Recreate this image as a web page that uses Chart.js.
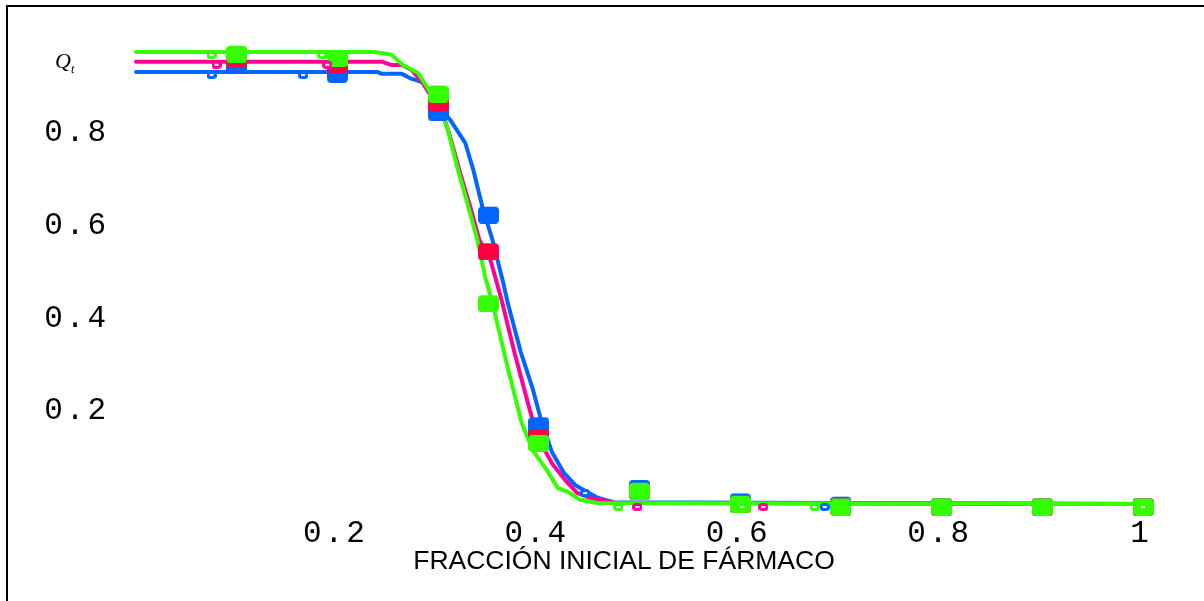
<!DOCTYPE html>
<html><head><meta charset="utf-8">
<script src="https://cdn.jsdelivr.net/npm/chart.js@4/dist/chart.umd.min.js"></script>
<style>
html,body{margin:0;padding:0;background:#fff;overflow:hidden;}
#wrap{position:relative;width:1204px;height:601px;overflow:hidden;background:#fff;}
#c{position:absolute;left:0;top:0;}
#qt{position:absolute;left:55px;top:50px;font-family:"Liberation Serif",serif;font-style:italic;font-size:22px;line-height:1;}
#qt sub{font-size:12px;}
#xt{position:absolute;left:0;width:1248px;text-align:center;top:547px;font-family:"Liberation Sans",Arial,sans-serif;font-size:26.5px;line-height:1;color:#000;}
</style></head>
<body>
<div id="wrap">
<canvas id="c" width="1204" height="601"></canvas>
<div id="qt">Q<sub>t</sub></div>
<div id="xt">FRACCIÓN INICIAL DE FÁRMACO</div>
</div>
<script>
// ---- tick labels ----
const xTickValues = [0.2, 0.4, 0.6, 0.8, 1];
const xTickLabels = ['0.2', '0.4', '0.6', '0.8', '1'];
const yTickValues = [0.2, 0.4, 0.6, 0.8];
const yTickLabels = ['0.2', '0.4', '0.6', '0.8'];

// ---- curves (averaged lines) ----
const greenLineX = [0, 0.237, 0.254, 0.265, 0.280, 0.289, 0.300, 0.309, 0.319, 0.329, 0.339, 0.347, 0.354, 0.368, 0.383, 0.394, 0.408, 0.419, 0.429, 0.441, 0.458, 1];
const greenLineY = [0.974, 0.974, 0.968, 0.946, 0.929, 0.899, 0.860, 0.812, 0.726, 0.649, 0.569, 0.487, 0.433, 0.304, 0.175, 0.116, 0.073, 0.034, 0.026, 0.009, 0.002, 0];
const pinkLineX = [0, 0.245, 0.254, 0.264, 0.274, 0.285, 0.294, 0.304, 0.312, 0.322, 0.332, 0.341, 0.352, 0.363, 0.376, 0.391, 0.399, 0.413, 0.426, 0.438, 0.451, 0.461, 0.476, 1];
const pinkLineY = [0.953, 0.953, 0.946, 0.946, 0.935, 0.907, 0.875, 0.845, 0.791, 0.713, 0.640, 0.569, 0.526, 0.440, 0.325, 0.203, 0.144, 0.088, 0.052, 0.024, 0.013, 0.009, 0.002, 0];
const blueLineX = [0, 0.240, 0.244, 0.264, 0.272, 0.284, 0.290, 0.299, 0.312, 0.327, 0.335, 0.344, 0.354, 0.364, 0.369, 0.382, 0.394, 0.402, 0.413, 0.425, 0.436, 0.448, 0.459, 0.474, 1];
const blueLineY = [0.931, 0.931, 0.927, 0.927, 0.918, 0.909, 0.892, 0.860, 0.828, 0.778, 0.720, 0.640, 0.569, 0.483, 0.435, 0.328, 0.248, 0.183, 0.112, 0.067, 0.041, 0.026, 0.013, 0.004, 0];

// ---- big markers (simulation points) ----
const markerX = [0.1, 0.2, 0.3, 0.35, 0.4, 0.5, 0.6, 0.7, 0.8, 0.9, 1.0];
const greenMarkY = [0.976, 0.966, 0.890, 0.438, 0.137, 0.034, 0.006, 0.000, 0, 0, 0];
const pinkMarkY  = [0.966, 0.953, 0.871, 0.550, 0.149, 0.033, 0.005, 0.000, 0, 0, 0];
const blueMarkY  = [0.952, 0.933, 0.851, 0.629, 0.175, 0.040, 0.011, 0.004, 0, 0, 0];

// ---- small hollow markers ----
const greenSmallX = [0.075, 0.185, 0.479, 0.602, 0.674, 1.0];
const greenSmallY = [0.974, 0.974, 0, 0, 0, 0];
const pinkSmallX = [0.080, 0.190, 0.498, 0.623];
const pinkSmallY = [0.953, 0.953, 0, 0];
const blueSmallX = [0.075, 0.166, 0.446, 0.684];
const blueSmallY = [0.931, 0.931, 0.030, 0];

const GREEN = '#33ff00', PINK = '#ff0099', RED = '#ff0044', BLUE = '#0066ff';

function pts(xs, ys) { return xs.map((x, i) => ({x: x, y: ys[i]})); }
function bigMarker(color) {
  const c = document.createElement('canvas'); c.width = 21; c.height = 23;
  const g = c.getContext('2d'); g.fillStyle = color; g.beginPath(); g.roundRect(0, 6, 21, 17, 4); g.fill();
  return c;
}
function smallMarker(color) {
  const c = document.createElement('canvas'); c.width = 10; c.height = 14;
  const g = c.getContext('2d'); g.beginPath(); g.roundRect(1.5, 7.5, 7, 5, 2);
  g.fillStyle = '#fff'; g.fill(); g.lineWidth = 3; g.strokeStyle = color; g.stroke();
  return c;
}
function lineDs(xs, ys, color, order) {
  return {data: pts(xs, ys), showLine: true, borderColor: color, borderWidth: 4, pointRadius: 0,
          borderCapStyle: 'round', borderJoinStyle: 'round', tension: 0, clip: false, order: order};
}
function markDs(xs, ys, img, order) {
  return {data: pts(xs, ys), showLine: false, pointStyle: img, pointRadius: 10, pointHoverRadius: 10,
          clip: false, order: order};
}

const framePlugin = {
  id: 'frame',
  beforeLayout(chart) { chart.ctx.letterSpacing = '3px'; },
  beforeDraw(chart) {
    const c = chart.ctx;
    c.letterSpacing = '3px';
    c.save();
    c.fillStyle = '#fff'; c.fillRect(0, 0, chart.width, chart.height);
    c.restore();
  },
  afterDraw(chart) {
    const c = chart.ctx;
    c.save();
    c.fillStyle = '#fff'; c.fillRect(1170, 8, chart.width - 1170, chart.height);
    c.fillStyle = '#000';
    c.fillRect(6, 5, 2, chart.height);
    c.fillRect(6, 5, chart.width, 2);
    c.restore();
  }
};

const tickFont = {family: 'Liberation Mono', size: 31, lineHeight: 1};

new Chart(document.getElementById('c'), {
  type: 'scatter',
  plugins: [framePlugin],
  data: {
    datasets: [
      markDs(greenSmallX, greenSmallY, smallMarker(GREEN), 0),
      markDs(pinkSmallX, pinkSmallY, smallMarker(PINK), 0.5),
      markDs(blueSmallX, blueSmallY, smallMarker(BLUE), 0.7),
      markDs(markerX, greenMarkY, bigMarker(GREEN), 1),
      markDs(markerX, pinkMarkY, bigMarker(RED), 2),
      markDs(markerX, blueMarkY, bigMarker(BLUE), 3),
      lineDs(greenLineX, greenLineY, GREEN, 4),
      lineDs(pinkLineX, pinkLineY, PINK, 5),
      lineDs(blueLineX, blueLineY, BLUE, 6)
    ]
  },
  options: {
    responsive: false, animation: false, devicePixelRatio: 1,
    layout: {padding: {left: 0, top: 40, right: 61, bottom: 0}},
    plugins: {legend: {display: false}, tooltip: {enabled: false}},
    scales: {
      x: {
        type: 'linear', min: 0, max: 1,
        grid: {display: false, drawTicks: true, tickLength: 8}, border: {display: false},
        afterBuildTicks: (s) => { s.ticks = xTickValues.map(v => ({value: v})); },
        afterFit: (s) => { s.height = 97; },
        ticks: {color: '#000', padding: 6, labelOffset: -2, maxRotation: 0, autoSkip: false, font: tickFont,
                callback: (v, i) => xTickLabels[i]}
      },
      y: {
        type: 'linear', min: 0, max: 1,
        grid: {display: false, drawTicks: true, tickLength: 8}, border: {display: false},
        afterBuildTicks: (s) => { s.ticks = yTickValues.map(v => ({value: v})); },
        afterFit: (s) => { s.width = 136; },
        ticks: {color: '#000', padding: 19, autoSkip: false, font: tickFont,
                callback: (v, i) => yTickLabels[i]}
      }
    }
  }
});
</script>
</body></html>
